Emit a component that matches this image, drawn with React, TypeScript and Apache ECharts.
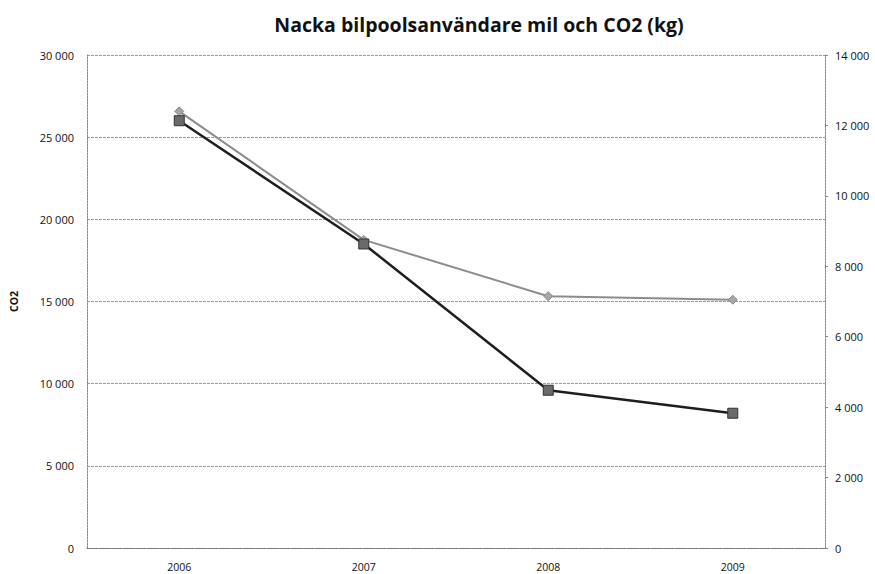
import React, { useEffect, useRef } from "react";
import * as echarts from "echarts";

const years = ["2006", "2007", "2008", "2009"];
const co2Values = [26000, 18500, 9600, 8200];
const milValues = [12400, 8750, 7150, 7050];
const titleText = "Nacka bilpoolsanvändare mil och CO2 (kg)";

const fmt = (v: number) => {
  const s = String(Math.round(v));
  return s.replace(/\B(?=(\d{3})+(?!\d))/g, " ");
};

export default function App() {
  const ref = useRef<HTMLDivElement>(null);
  useEffect(() => {
    if (!ref.current) return;
    const chart = echarts.init(ref.current, undefined, { renderer: "svg" });
    const font = "'Open Sans', 'DejaVu Sans', sans-serif";
    chart.setOption({
      animation: false,
      backgroundColor: "#ffffff",
      title: {
        text: titleText,
        left: 474,
        top: 9,
        textAlign: "center",
        textStyle: { fontFamily: font, fontSize: 19.5, fontWeight: "bold", color: "#111" },
      },
      grid: { left: 85, right: 50, top: 55, bottom: 26, containLabel: false },
      xAxis: {
        type: "category",
        data: years,
        boundaryGap: true,
        axisLine: { lineStyle: { color: "#777", type: [2, 1], width: 1 } },
        axisTick: { show: false },
        axisLabel: { fontFamily: font, fontSize: 10.5, color: "#111", margin: 13 },
      },
      yAxis: [
        {
          type: "value",
          min: 0,
          max: 30000,
          interval: 5000,
          name: "CO2",
          nameLocation: "middle",
          nameGap: 68,
          nameRotate: 90,
          nameTextStyle: { fontFamily: font, fontSize: 10.5, fontWeight: "bold", color: "#111" },
          axisLine: { show: true, lineStyle: { color: "#888", type: [2, 1], width: 1 } },
          axisTick: { show: false },
          axisLabel: { fontFamily: font, fontSize: 11, color: "#111", margin: 13, formatter: fmt },
          splitLine: { show: true, lineStyle: { color: "#9a9a9a", type: [3, 1], width: 1 } },
        },
        {
          type: "value",
          min: 0,
          max: 14000,
          interval: 2000,
          position: "right",
          axisLine: { show: true, lineStyle: { color: "#888", type: [2, 1], width: 1 } },
          axisTick: { show: true, length: 3, lineStyle: { color: "#888" } },
          axisLabel: { fontFamily: font, fontSize: 11, color: "#111", margin: 10, formatter: fmt },
          splitLine: { show: false },
        },
      ],
      series: [
        {
          name: "mil",
          type: "line",
          yAxisIndex: 1,
          data: milValues,
          symbol: "diamond",
          symbolSize: 9,
          lineStyle: { color: "#8c8c8c", width: 2 },
          itemStyle: { color: "#a6a6a6", borderColor: "#888", borderWidth: 1 },
          z: 2,
        },
        {
          name: "CO2",
          type: "line",
          yAxisIndex: 0,
          data: co2Values,
          symbol: "rect",
          symbolSize: 10,
          lineStyle: { color: "#1e1e1e", width: 2.5 },
          itemStyle: { color: "#6a6a6a", borderColor: "#333", borderWidth: 1 },
          z: 3,
        },
      ],
    });
    return () => chart.dispose();
  }, []);
  return <div ref={ref} style={{ width: 875, height: 574, position: "absolute", left: 0, top: 0 }} />;
}
